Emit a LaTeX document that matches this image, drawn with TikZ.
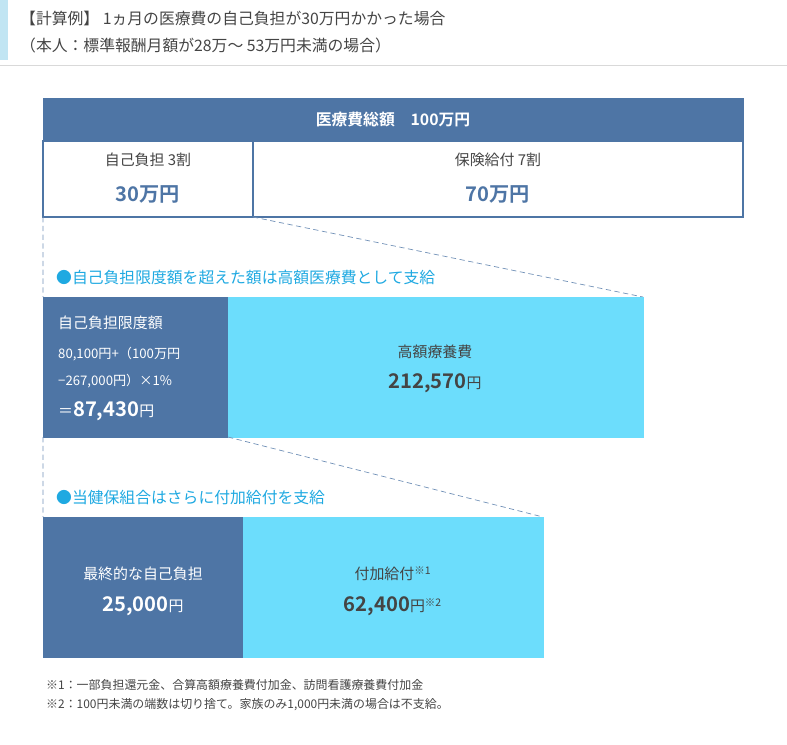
\documentclass[tikz,border=0pt]{standalone}
\usepackage{fontspec}
\setmainfont{Noto Sans CJK JP}[BoldFont={Noto Sans CJK JP Bold}]
\definecolor{hdblue}{HTML}{4E75A5}
\definecolor{skycell}{HTML}{6CDDFC}
\definecolor{skytext}{HTML}{1FA9E1}
\definecolor{inktext}{HTML}{444444}
\newcommand{\bnum}[1]{{\bfseries\fontsize{11.5}{13}\selectfont #1}}
\begin{document}
\begin{tikzpicture}[x=0.02cm,y=-0.02cm,
    every node/.style={text=inktext,font=\fontsize{8.5}{10}\selectfont},
    darkcell/.style={fill=hdblue,draw=hdblue},
    lightcell/.style={fill=skycell,draw=skycell},
    guide/.style={densely dashed,draw=hdblue!80,thin},
    bignum/.style={font=\fontsize{11.5}{13}\selectfont\bfseries}]
    \useasboundingbox (0,0) rectangle (787,744);
    % title
    \fill[skycell!70!hdblue!40] (0,0) rectangle (8,60);
    \node[anchor=west,font=\fontsize{9}{11}\selectfont] (t1) at (14,18) {【計算例】 1ヵ月の医療費の自己負担が30万円かかった場合};
    \node[anchor=west,font=\fontsize{9}{11}\selectfont] (t2) at (14,45) {（本人：標準報酬月額が28万～ 53万円未満の場合）};
    \draw[gray!30] (0,65) -- (787,65);
    % total table
    \fill[darkcell] (43,98) rectangle (743,141);
    \node[text=white,font=\fontsize{9}{11}\selectfont\bfseries] (total) at (393,120) {医療費総額　100万円};
    \draw[hdblue,thick] (43,141) rectangle (253,217) (253,141) rectangle (743,217);
    \node (selfhd) at (148,160) {自己負担 3割};
    \node[bignum,text=hdblue] (selfamt) at (148,194) {30万円};
    \node (insthd) at (498,160) {保険給付 7割};
    \node[bignum,text=hdblue] (instamt) at (498,194) {70万円};
    % stage 2
    \draw[guide] (43,217) -- (43,297) (253,217) -- (643,297);
    \node[anchor=west,text=skytext,font=\fontsize{9}{11}\selectfont] (note1) at (50,278) {●自己負担限度額を超えた額は高額医療費として支給};
    \fill[darkcell] (43,297) rectangle (228,437);
    \fill[lightcell] (228,297) rectangle (643,437);
    \node[anchor=west,text=white] (limhd) at (52,323) {自己負担限度額};
    \node[anchor=west,text=white,font=\fontsize{7.5}{9}\selectfont] (limf1) at (52,354) {80,100円+（100万円};
    \node[anchor=west,text=white,font=\fontsize{7.5}{9}\selectfont] (limf2) at (52,381) {−267,000円）×1\%};
    \node[anchor=west,text=white] (limamt) at (52,411) {＝\bnum{87,430}円};
    \node (highhd) at (435,352) {高額療養費};
    \node (highamt) at (435,383) {\bnum{212,570}円};
    % stage 3
    \draw[guide] (43,437) -- (43,517) (228,437) -- (543,517);
    \node[anchor=west,text=skytext,font=\fontsize{9}{11}\selectfont] (note2) at (50,498) {●当健保組合はさらに付加給付を支給};
    \fill[darkcell] (43,517) rectangle (243,657);
    \fill[lightcell] (243,517) rectangle (543,657);
    \node[text=white] (finhd) at (143,574) {最終的な自己負担};
    \node[text=white] (finamt) at (143,606) {\bnum{25,000}円};
    \node (addhd) at (393,574) {付加給付\textsuperscript{※1}};
    \node (addamt) at (393,606) {\bnum{62,400}円\textsuperscript{※2}};
    % footnotes
    \node[anchor=west,font=\fontsize{6.8}{8}\selectfont] (fn1) at (40,685) {※1：一部負担還元金、合算高額療養費付加金、訪問看護療養費付加金};
    \node[anchor=west,font=\fontsize{6.8}{8}\selectfont] (fn2) at (40,705) {※2：100円未満の端数は切り捨て。家族のみ1,000円未満の場合は不支給。};
\end{tikzpicture}
\end{document}
